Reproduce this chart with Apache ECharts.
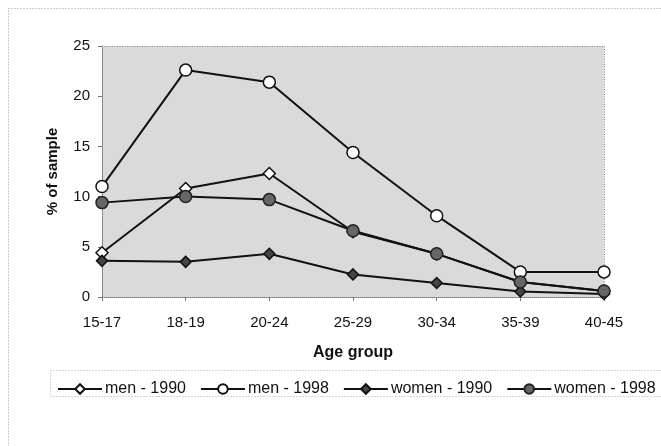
<!DOCTYPE html>
<html><head><meta charset="utf-8">
<script src="https://cdn.jsdelivr.net/npm/echarts@6/dist/echarts.min.js"></script>
<style>html,body{margin:0;padding:0;background:#fff;}#c{width:661px;height:446px;}</style>
</head><body><div id="c"></div>
<script>
const categories = ['15-17','18-19','20-24','25-29','30-34','35-39','40-45'];
const men1990   = [4.4, 10.8, 12.3, 6.5, 4.3, 1.5, 0.6];
const men1998   = [11.0, 22.6, 21.4, 14.4, 8.1, 2.5, 2.5];
const women1990 = [3.6, 3.5, 4.3, 2.25, 1.4, 0.55, 0.3];
const women1998 = [9.4, 10.0, 9.7, 6.6, 4.3, 1.5, 0.6];
const seriesNames = ['men - 1990','men - 1998','women - 1990','women - 1998'];

const chart = echarts.init(document.getElementById('c'), null, {renderer:'canvas'});
const font = 'Liberation Sans, Arial, sans-serif';
function mk(name, data, symbol, size, fill, border){
  return {name, type:'line', data, symbol, symbolSize:size, showSymbol:true,
    lineStyle:{color:'#111', width:2}, itemStyle:{color:fill, borderColor:border, borderWidth:1.5},
    emphasis:{disabled:true}, animation:false, z:3};
}
chart.setOption({
  animation:false,
  backgroundColor:'#fff',
  textStyle:{fontFamily:font},
  graphic:[
    {type:'rect', shape:{x:8.5,y:8.5,width:700,height:500}, style:{fill:'none', stroke:'#999', lineWidth:1, lineDash:[1,2]}, z:0},
    {type:'rect', shape:{x:50.5,y:370.5,width:700,height:26}, style:{fill:'none', stroke:'#aaa', lineWidth:1, lineDash:[1,2]}, z:0},
    {type:'polyline', shape:{points:[[102,46.5],[604.5,46.5],[604.5,297]]}, style:{fill:'none', stroke:'#888', lineWidth:1, lineDash:[1,1.5]}, z:1}
  ],
  grid:{left:102, right:57, top:46, bottom:149, show:true, backgroundColor:'#dadada', borderWidth:0},
  xAxis:{type:'category', data:categories, boundaryGap:false,
    name:'Age group', nameLocation:'middle', nameGap:48,
    nameTextStyle:{fontSize:16, fontWeight:'bold', color:'#111', fontFamily:font},
    axisLine:{lineStyle:{color:'#777', type:'dotted'}},
    axisTick:{show:true, alignWithLabel:true, length:4, lineStyle:{color:'#777'}},
    axisLabel:{fontSize:15, color:'#111', margin:18, fontFamily:font},
    splitLine:{show:false}},
  yAxis:{type:'value', min:0, max:25, interval:5,
    name:'% of sample', nameLocation:'middle', nameGap:42,
    nameTextStyle:{fontSize:15, fontWeight:'bold', color:'#111', fontFamily:font},
    axisLine:{show:true, lineStyle:{color:'#777', type:'dotted'}},
    axisTick:{show:true, length:4, lineStyle:{color:'#777'}},
    axisLabel:{fontSize:15, color:'#111', margin:12, fontFamily:font},
    splitLine:{show:false}},
  legend:{left:52, top:376, itemWidth:44, itemHeight:12, itemGap:14,
    data:seriesNames,
    textStyle:{fontSize:16, color:'#111', fontFamily:font, padding:[0,0,0,-2]}},
  series:[
    mk(seriesNames[0], men1990, 'diamond', 12, '#fff', '#111'),
    mk(seriesNames[1], men1998, 'circle', 12, '#fff', '#111'),
    mk(seriesNames[2], women1990, 'diamond', 11, '#444', '#111'),
    mk(seriesNames[3], women1998, 'circle', 12, '#666', '#222')
  ]
});
</script></body></html>
